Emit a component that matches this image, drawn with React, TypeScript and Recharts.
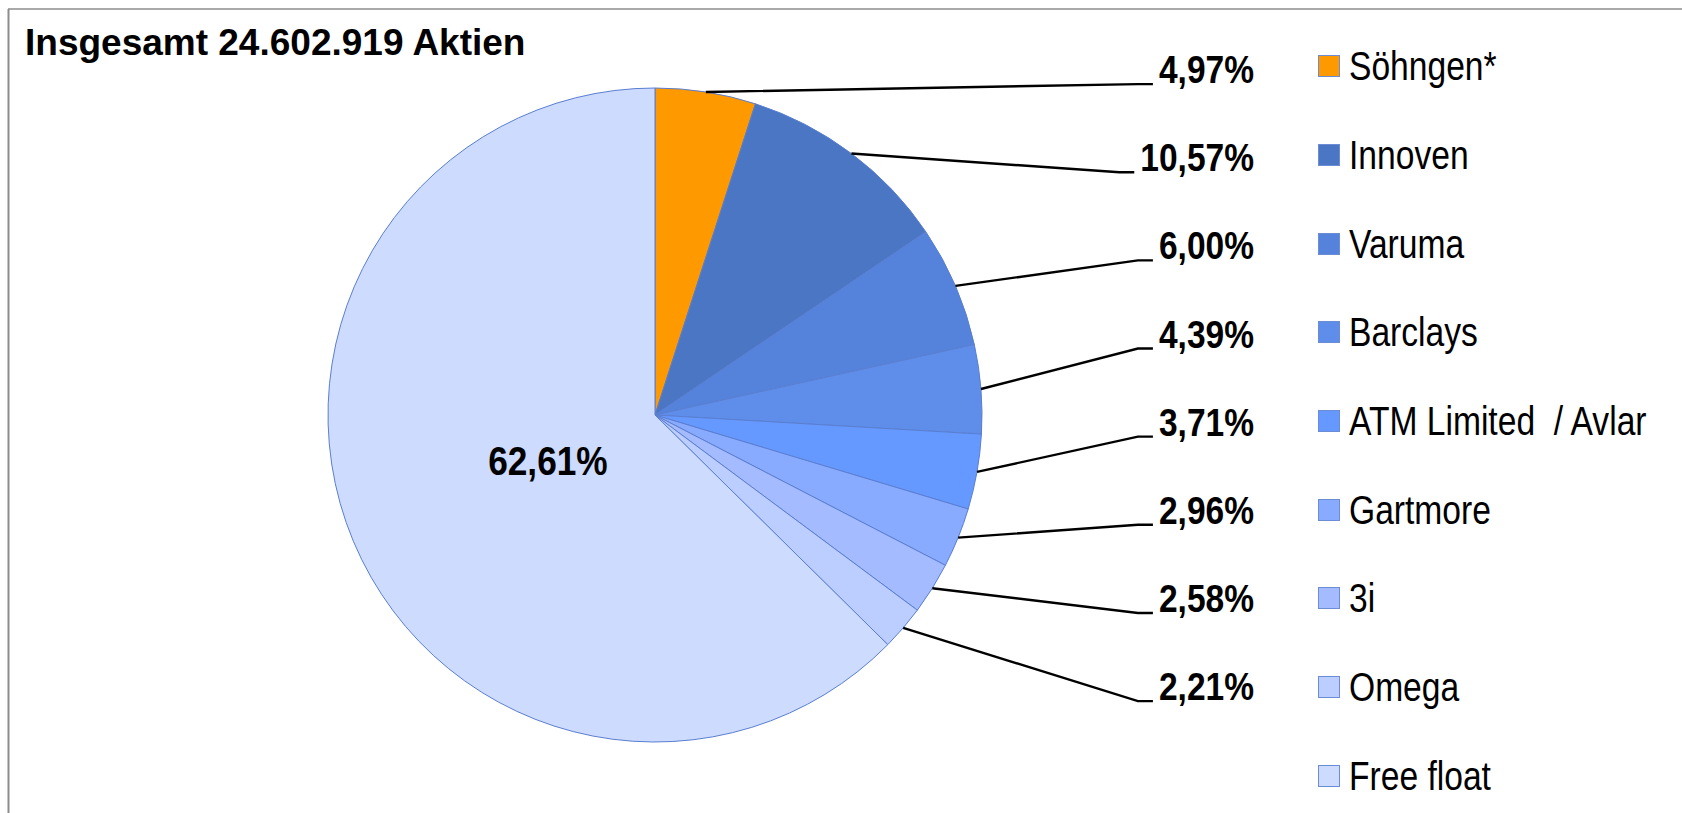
import { Cell, Legend, Pie, PieChart } from 'recharts';

const holders = ['Söhngen*', 'Innoven', 'Varuma', 'Barclays', 'ATM Limited  / Avlar', 'Gartmore', '3i', 'Omega', 'Free float'];
const shares = [4.97, 10.57, 6.0, 4.39, 3.71, 2.96, 2.58, 2.21, 62.61];
const colors = ['#FF9900', '#4A76C4', '#5583DB', '#5F8EEA', '#6699FF', '#88AAFF', '#A5BBFF', '#BCCDFF', '#CDDBFF'];

const FONT = '"Liberation Sans", Arial, sans-serif';
const RAD = Math.PI / 180;
const LABEL_RIGHT = 1254;
const LABEL_STEP = 88.14;
const NARROW = 0.86;

const data = holders.map((name, i) => ({ name, value: shares[i] }));

// rough Arial Bold advance widths, used to find where each label starts
function textWidth(s: string, size: number) {
  const em = s.split('').reduce((w, c) => w + (c === ',' ? 0.278 : c === '%' ? 0.889 : 0.556), 0);
  return em * size * NARROW;
}

function fmt(v: number) {
  return v.toFixed(2).replace('.', ',') + '%';
}

function renderLabel(props: any) {
  const { cx, cy, midAngle, outerRadius, index, value, percent } = props;
  const text = fmt(value);
  const cos = Math.cos(-midAngle * RAD);
  const sin = Math.sin(-midAngle * RAD);

  if (percent > 0.5) {
    const r = outerRadius * 0.355;
    const x = cx + r * cos;
    const y = cy + r * sin + 15;
    return (
      <text transform={`translate(${x} ${y}) scale(${NARROW} 1)`} textAnchor="middle"
        fontFamily={FONT} fontWeight="bold" fontSize={41} fill="#000">
        {text}
      </text>
    );
  }

  const sx = cx + outerRadius * cos;
  const sy = cy + outerRadius * sin;
  const baseline = cy - outerRadius * 1.015 + index * LABEL_STEP;
  const start = LABEL_RIGHT - textWidth(text, 39);
  const ex = start - 6;
  const bx = ex - 15;
  return (
    <g>
      <polyline points={`${sx},${sy} ${bx},${baseline + 1} ${ex},${baseline + 1}`} fill="none" stroke="#000" strokeWidth={2.4} />
      <text transform={`translate(${LABEL_RIGHT} ${baseline}) scale(${NARROW} 1)`} textAnchor="end"
        fontFamily={FONT} fontWeight="bold" fontSize={39} fill="#000">
        {text}
      </text>
    </g>
  );
}

function renderLegend(props: any) {
  const items = [...(props.payload || [])].sort(
    (a: any, b: any) => holders.indexOf(a.value) - holders.indexOf(b.value),
  );
  return (
    <div>
      {items.map((entry: any) => {
        const i = holders.indexOf(entry.value);
        return (
          <div key={entry.value} style={{ height: 88.66, display: 'flex', alignItems: 'center' }}>
            <span style={{ width: 22, height: 22, boxSizing: 'border-box', background: colors[i], border: '1.5px solid #6C8CD5', flex: 'none' }} />
            <span style={{ marginLeft: 9, fontFamily: FONT, fontSize: 40, lineHeight: 1, color: '#000', whiteSpace: 'pre', transform: 'scaleX(0.84)', transformOrigin: 'left center' }}>
              {entry.value}
            </span>
          </div>
        );
      })}
    </div>
  );
}

export default function App() {
  return (
    <div style={{ position: 'absolute', left: 0, top: 0, width: 1682, height: 813, background: '#fff', overflow: 'hidden' }}>
      <PieChart width={1682} height={813} margin={{ top: 0, right: 0, bottom: 0, left: 0 }}>
        <Pie
          data={data}
          dataKey="value"
          nameKey="name"
          cx={655}
          cy={415}
          outerRadius={327}
          startAngle={90}
          endAngle={-270}
          stroke="#5A7ED0"
          strokeWidth={1}
          label={renderLabel}
          labelLine={false}
          isAnimationActive={false}
        >
          {data.map((d, i) => (
            <Cell key={d.name} fill={colors[i]} />
          ))}
        </Pie>
        <Legend layout="vertical" align="right" verticalAlign="top" content={renderLegend}
          wrapperStyle={{ left: 1318, top: 22, width: 364 }} />
      </PieChart>
      <svg width={1682} height={813} style={{ position: 'absolute', left: 0, top: 0, pointerEvents: 'none' }}>
        <line x1={8} y1={9} x2={1682} y2={9} stroke="#8C8C8C" strokeWidth={1.5} />
        <line x1={8.5} y1={9} x2={8.5} y2={813} stroke="#8C8C8C" strokeWidth={2} />
        <text x={25} y={55} fontFamily={FONT} fontWeight="bold" fontSize={37} fill="#000">
          Insgesamt 24.602.919 Aktien
        </text>
      </svg>
    </div>
  );
}
